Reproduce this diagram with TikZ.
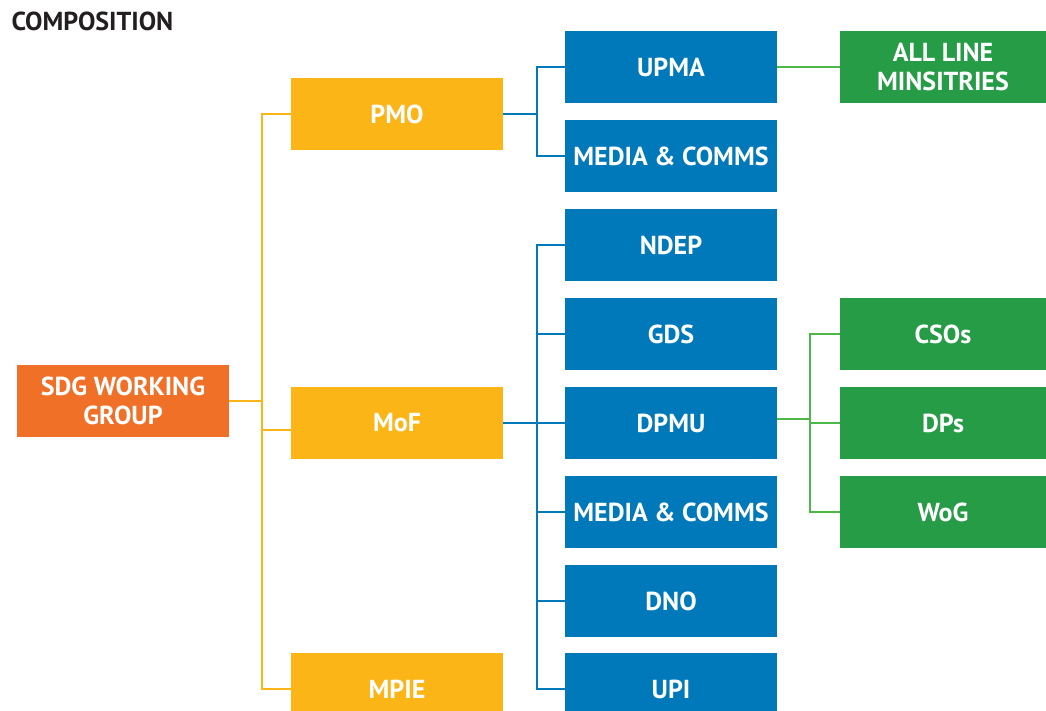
\documentclass[tikz,border=0pt]{standalone}
\usepackage{fontspec}
\setmainfont{PT Sans}
\usepackage{xcolor}
\usepackage{tikz}

\definecolor{orng}{HTML}{F07028}
\definecolor{yel}{HTML}{FBB517}
\definecolor{blu}{HTML}{0079BA}
\definecolor{grn}{HTML}{279C47}
\definecolor{grnline}{HTML}{4DB848}
\definecolor{titlegray}{HTML}{231F20}

\tikzset{
  box/.style={minimum width=212pt, minimum height=72pt, inner sep=0pt,
    text=white, align=center, font=\fontsize{26}{29}\selectfont\bfseries},
  gbox/.style={box, fill=grn, minimum width=206pt},
  yline/.style={draw=yel, line width=2.2pt},
  bline/.style={draw=blu, line width=2.2pt},
  gline/.style={draw=grnline, line width=2.2pt}
}

\begin{document}
\begin{tikzpicture}[x=1pt,y=-1pt]
\useasboundingbox (0,0) rectangle (1046,711);
  \node[anchor=base west, text=titlegray, font=\fontsize{26}{29}\selectfont\bfseries] (title) at (8,31) {COMPOSITION};
  % left side
  \node[box, fill=orng] (sdg) at (123,401) {SDG WORKING\\GROUP};
  \node[box, fill=yel] (pmo) at (397,114) {PMO};
  \node[box, fill=yel] (mof) at (397,423) {MoF};
  \node[box, fill=yel] (mpie) at (397,689) {MPIE};
  % blue column
  \node[box, fill=blu] (upma) at (671,67) {UPMA};
  \node[box, fill=blu] (media1) at (671,156) {MEDIA \& COMMS};
  \node[box, fill=blu] (ndep) at (671,245) {NDEP};
  \node[box, fill=blu] (gds) at (671,334) {GDS};
  \node[box, fill=blu] (dpmu) at (671,423) {DPMU};
  \node[box, fill=blu] (media2) at (671,512) {MEDIA \& COMMS};
  \node[box, fill=blu] (dno) at (671,601) {DNO};
  \node[box, fill=blu] (upi) at (671,689) {UPI};
  % green column
  \node[gbox] (alm) at (943,67) {ALL LINE\\MINSITRIES};
  \node[gbox] (csos) at (943,334) {CSOs};
  \node[gbox] (dps) at (943,423) {DPs};
  \node[gbox] (wog) at (943,512) {WoG};

  \draw[yline] (sdg.east) -- ++(33,0) |- (pmo.west);
  \draw[yline] (sdg.east) -- ++(33,0) |- ([yshift=-7pt]mof.west);
  \draw[yline] (sdg.east) -- ++(33,0) |- (mpie.west);

  \foreach \n in {upma,media1}
    \draw[bline] (pmo.east) -- ++(34,0) |- (\n.west);
  \foreach \n in {ndep,gds,dpmu,media2,dno,upi}
    \draw[bline] (mof.east) -- ++(34,0) |- (\n.west);

  \draw[gline] (upma.east) -- (alm.west);
  \foreach \n in {csos,dps,wog}
    \draw[gline] ([yshift=4pt]dpmu.east) -- ++(33,0) |- (\n.west);
\end{tikzpicture}
\end{document}
